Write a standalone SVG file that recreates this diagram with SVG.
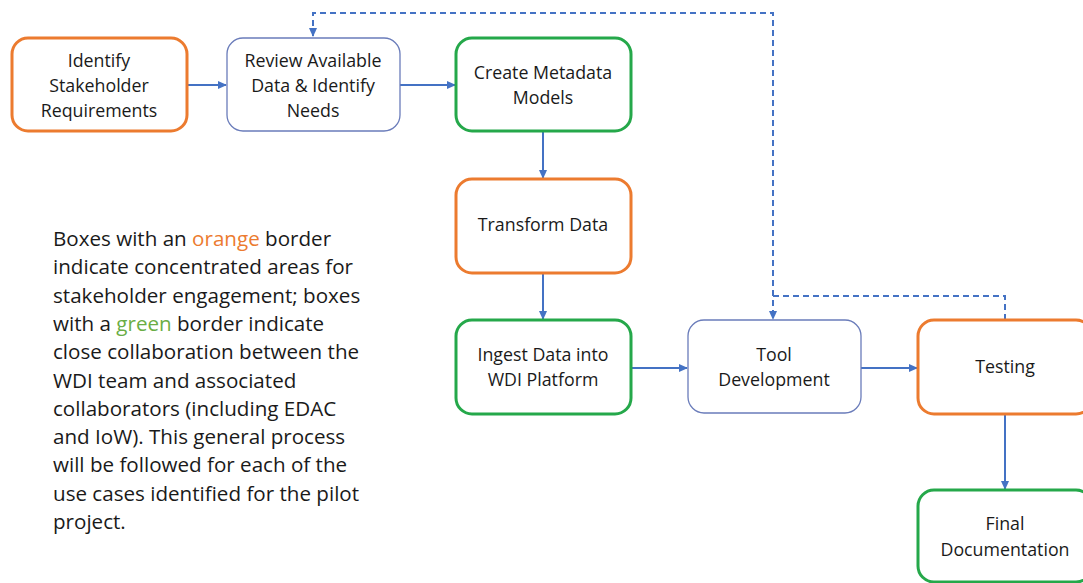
<svg xmlns="http://www.w3.org/2000/svg" width="1083" height="583" viewBox="0 0 1083 583">
<style>
.box{fill:#fff;rx:16;ry:16}
.or{stroke:#ec7b2f;stroke-width:3}
.gr{stroke:#25a84a;stroke-width:3}
.bl{stroke:#6a7cba;stroke-width:1.3}
.t{font-family:"Open Sans","Liberation Sans",Arial,sans-serif;font-size:17.8px;fill:#1a1a1a;text-anchor:middle}
.p{font-family:"Open Sans","Liberation Sans",Arial,sans-serif;font-size:20.6px;fill:#1a1a1a}
.c{fill:none;stroke:#4472c4;stroke-width:2}
.d{fill:none;stroke:#4472c4;stroke-width:2;stroke-dasharray:6 4}
</style>
<defs>
<marker id="ah" markerWidth="10" markerHeight="10" refX="8" refY="5" orient="auto" markerUnits="userSpaceOnUse">
<path d="M0,1 L9,5 L0,9 z" fill="#4472c4"/>
</marker>
</defs>
<rect width="1083" height="583" fill="#fff"/>
<g id="connectors">
<path class="c" d="M187,85 H226" marker-end="url(#ah)"/>
<path class="c" d="M400,85 H455" marker-end="url(#ah)"/>
<path class="c" d="M543,131 V178" marker-end="url(#ah)"/>
<path class="c" d="M543,273 V319" marker-end="url(#ah)"/>
<path class="c" d="M631,368 H687" marker-end="url(#ah)"/>
<path class="c" d="M861,368 H917" marker-end="url(#ah)"/>
<path class="c" d="M1005,414 V489" marker-end="url(#ah)"/>
<path class="d" d="M1005,320 V296 H773 V319" marker-end="url(#ah)"/>
<path class="d" d="M773,296 V13 H313 V36" marker-end="url(#ah)"/>
</g>
<g id="n1"><rect class="box or" x="12" y="38" width="175" height="93"/>
<text class="t" x="99" y="67">Identify</text><text class="t" x="99" y="92">Stakeholder</text><text class="t" x="99" y="117">Requirements</text></g>
<g id="n2"><rect class="box bl" x="227" y="38" width="173" height="93"/>
<text class="t" x="313" y="67">Review Available</text><text class="t" x="313" y="92">Data &amp; Identify</text><text class="t" x="313" y="117">Needs</text></g>
<g id="n3"><rect class="box gr" x="456" y="38" width="175" height="93"/>
<text class="t" x="543" y="79">Create Metadata</text><text class="t" x="543" y="104">Models</text></g>
<g id="n4"><rect class="box or" x="456" y="179" width="175" height="94"/>
<text class="t" x="543" y="231">Transform Data</text></g>
<g id="n5"><rect class="box gr" x="456" y="320" width="175" height="94"/>
<text class="t" x="543" y="361">Ingest Data into</text><text class="t" x="543" y="386">WDI Platform</text></g>
<g id="n6"><rect class="box bl" x="688" y="320" width="173" height="93"/>
<text class="t" x="774" y="361">Tool</text><text class="t" x="774" y="386">Development</text></g>
<g id="n7"><rect class="box or" x="918" y="320" width="174" height="94"/>
<text class="t" x="1005" y="373">Testing</text></g>
<g id="n8"><rect class="box gr" x="918" y="490" width="174" height="92"/>
<text class="t" x="1005" y="530">Final</text><text class="t" x="1005" y="556">Documentation</text></g>
<g id="legend">
<text class="p" x="53" y="246">Boxes with an <tspan fill="#ec7b2f">orange</tspan> border</text>
<text class="p" x="53" y="274.3">indicate concentrated areas for</text>
<text class="p" x="53" y="302.6">stakeholder engagement; boxes</text>
<text class="p" x="53" y="330.9">with a <tspan fill="#6aad45">green</tspan> border indicate</text>
<text class="p" x="53" y="359.2">close collaboration between the</text>
<text class="p" x="53" y="387.5">WDI team and associated</text>
<text class="p" x="53" y="415.8">collaborators (including EDAC</text>
<text class="p" x="53" y="444.1">and IoW). This general process</text>
<text class="p" x="53" y="472.4">will be followed for each of the</text>
<text class="p" x="53" y="500.7">use cases identified for the pilot</text>
<text class="p" x="53" y="529">project.</text>
</g>
</svg>
